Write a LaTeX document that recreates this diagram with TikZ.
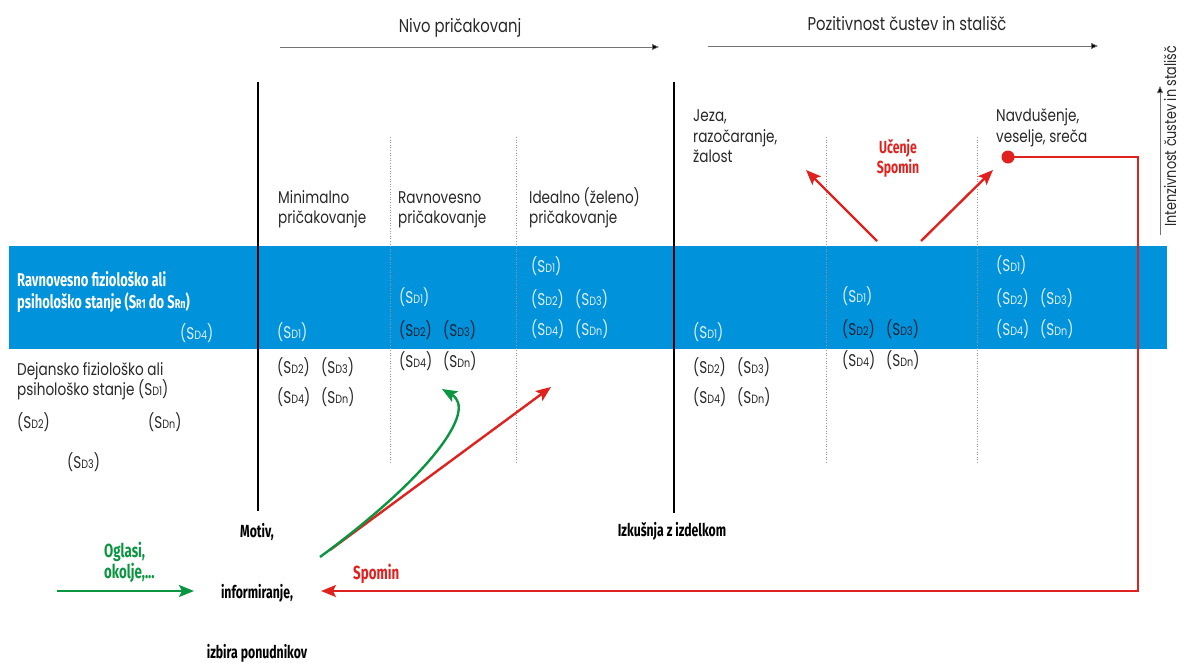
\documentclass[tikz,border=0pt]{standalone}
\usepackage{fontspec}
\setmainfont{Poppins}[FakeStretch=0.8]
\newfontfamily\condfont{Fira Sans}[FakeStretch=0.7]
\usetikzlibrary{arrows.meta}
\definecolor{bandblue}{RGB}{0,146,218}
\definecolor{redc}{RGB}{224,34,31}
\definecolor{greenc}{RGB}{10,150,64}
\definecolor{txtc}{RGB}{40,40,40}
\definecolor{lightw}{RGB}{225,240,252}
\definecolor{darkb}{RGB}{20,35,55}
\definecolor{dotc}{RGB}{150,150,150}
\newcommand\sdx[1]{(S{\fontsize{12}{12}\selectfont #1})}
\begin{document}
\begin{tikzpicture}[x=1pt,y=-1pt,
  txt/.style={inner sep=0,anchor=base west,text=txtc,font=\fontsize{17}{20}\selectfont},
  ctxt/.style={txt,anchor=base,font=\fontsize{18.5}{20}\selectfont},
  sdw/.style={txt,text=lightw,font=\fontsize{17}{18}\selectfont},
  sdd/.style={txt,text=darkb,font=\fontsize{17}{18}\selectfont},
  sdg/.style={txt,font=\fontsize{17}{18}\selectfont},
  boldc/.style={inner sep=0,anchor=base,font=\condfont\bfseries\fontsize{17.5}{20}\selectfont},
  boldl/.style={boldc,anchor=base west},
  bandtxt/.style={boldl,text=white,font=\condfont\bfseries\fontsize{18.5}{20}\selectfont},
  thickline/.style={line width=2.6pt,black},
  dotline/.style={dotc,line width=0.7pt,dash pattern=on 1pt off 1.6pt},
  toparrow/.style={line width=0.7pt,draw=black!55,-{Triangle[length=7pt,width=6pt,fill=black]}},
  redarrow/.style={line width=2.4pt,redc,-{Stealth[length=15pt,width=12pt,inset=3pt]}},
  greenarrow/.style={line width=2.4pt,greenc,-{Stealth[length=15pt,width=12pt,inset=3pt]}}
]
\useasboundingbox (0,0) rectangle (1180,662);

% blue band
\fill[bandblue] (9,246) rectangle (1167,349);

% top axes
\node[ctxt] (nivo) at (460,32) {Nivo pričakovanj};
\coordinate (na) at (280,47);
\coordinate (nb) at (659,47);
\draw[toparrow] (na) -- (nb);
\node[ctxt] (poz) at (907,30) {Pozitivnost čustev in stališč};
\coordinate (pa) at (708,46);
\coordinate (pb) at (1098,46);
\draw[toparrow] (pa) -- (pb);
\coordinate (va) at (1160,235);
\coordinate (vb) at (1160,86);
\draw[toparrow] (va) -- (vb);
\node[txt,anchor=center,rotate=90,font=\fontsize{16}{18}\selectfont] (intenz) at (1170,136) {Intenzivnost čustev in stališč};

% vertical lines
\coordinate (l1t) at (258,82); \coordinate (l1b) at (258,511);
\coordinate (l2t) at (674,82); \coordinate (l2b) at (674,513);
\draw[thickline] (l1t) -- (l1b);
\draw[thickline] (l2t) -- (l2b);
\foreach \xx/\nm in {390/d1,516/d2,826/d3,977/d4}{
  \coordinate (\nm t) at (\xx,137);
  \coordinate (\nm b) at (\xx,463);
  \draw[dotline] (\nm t) -- (\nm b);
}

% column headings
\node[txt] (min1) at (278,203) {Minimalno};
\node[txt] (min2) at (278,223) {pričakovanje};
\node[txt] (rav1) at (398,203) {Ravnovesno};
\node[txt] (rav2) at (398,223) {pričakovanje};
\node[txt] (ide1) at (529,203) {Idealno (želeno)};
\node[txt] (ide2) at (529,223) {pričakovanje};
\node[txt] (jez1) at (693,121) {Jeza,};
\node[txt] (jez2) at (693,142) {razočaranje,};
\node[txt] (jez3) at (693,162) {žalost};
\node[txt] (nav1) at (996,121) {Navdušenje,};
\node[txt] (nav2) at (996,142) {veselje, sreča};
\node[boldc,text=redc] (uc1) at (898,153) {Učenje};
\node[boldc,text=redc] (uc2) at (898,173) {Spomin};

% left texts
\node[bandtxt] (rv1) at (17,286) {Ravnovesno fiziološko ali};
\node[bandtxt] (rv2) at (17,308) {psihološko stanje (S{\fontsize{13}{13}\selectfont R1} do S{\fontsize{13}{13}\selectfont Rn})};
\node[sdw] (l4) at (180,339) {\sdx{D4}};
\node[txt] (dej1) at (17,375) {Dejansko fiziološko ali};
\node[txt] (dej2) at (17,395) {psihološko stanje \sdx{D1}};
\node[sdg] (l2) at (17,428) {\sdx{D2}};
\node[sdg] (ln) at (148,428) {\sdx{Dn}};
\node[sdg] (l3) at (67,468) {\sdx{D3}};

% column 1 (Minimalno)
\node[sdw] (a1) at (277,338) {\sdx{D1}};
\node[sdg] (a2) at (277,373) {\sdx{D2}};
\node[sdg] (a3) at (321,373) {\sdx{D3}};
\node[sdg] (a4) at (277,403) {\sdx{D4}};
\node[sdg] (an) at (321,403) {\sdx{Dn}};
% column 2 (Ravnovesno)
\node[sdw] (b1) at (399,303) {\sdx{D1}};
\node[sdd] (b2) at (399,336) {\sdx{D2}};
\node[sdd] (b3) at (443,336) {\sdx{D3}};
\node[sdg] (b4) at (399,367) {\sdx{D4}};
\node[sdg] (bn) at (443,367) {\sdx{Dn}};
% column 3 (Idealno)
\node[sdw] (c1) at (531,272) {\sdx{D1}};
\node[sdw] (c2) at (531,305) {\sdx{D2}};
\node[sdw] (c3) at (575,305) {\sdx{D3}};
\node[sdw] (c4) at (531,335) {\sdx{D4}};
\node[sdw] (cn) at (575,335) {\sdx{Dn}};
% column 4 (Jeza)
\node[sdw] (e1) at (693,338) {\sdx{D1}};
\node[sdg] (e2) at (693,373) {\sdx{D2}};
\node[sdg] (e3) at (737,373) {\sdx{D3}};
\node[sdg] (e4) at (693,403) {\sdx{D4}};
\node[sdg] (en) at (737,403) {\sdx{Dn}};
% column 5
\node[sdw] (f1) at (842,302) {\sdx{D1}};
\node[sdd] (f2) at (842,335) {\sdx{D2}};
\node[sdd] (f3) at (886,335) {\sdx{D3}};
\node[sdg] (f4) at (842,366) {\sdx{D4}};
\node[sdg] (fn) at (886,366) {\sdx{Dn}};
% column 6 (Navdušenje)
\node[sdw] (g1) at (996,271) {\sdx{D1}};
\node[sdw] (g2) at (996,304) {\sdx{D2}};
\node[sdw] (g3) at (1040,304) {\sdx{D3}};
\node[sdw] (g4) at (996,335) {\sdx{D4}};
\node[sdw] (gn) at (1040,335) {\sdx{Dn}};

% bottom texts
\node[boldc] (motiv) at (257,537) {Motiv,};
\node[boldc] (info) at (257,598) {informiranje,};
\node[boldc] (izbira) at (257,658) {izbira ponudnikov};
\node[boldc] (izk) at (672,536) {Izkušnja z izdelkom};
\node[boldl,text=greenc,font=\condfont\bfseries\fontsize{19}{20}\selectfont] (og1) at (104,557) {Oglasi,};
\node[boldl,text=greenc,font=\condfont\bfseries\fontsize{19}{20}\selectfont] (og2) at (104,578) {okolje,...};
\node[boldl,text=redc,font=\condfont\bfseries\fontsize{19}{20}\selectfont] (spom) at (353,579) {Spomin};

% Učenje arrows
\coordinate (ua) at (877,241); \coordinate (ub) at (806,170);
\coordinate (uc) at (921,241); \coordinate (ud) at (993,170);
\draw[redarrow] (ua) -- (ub);
\draw[redarrow] (uc) -- (ud);

% red feedback loop
\fill[redc] (1008,157) circle (6.5pt) coordinate (dot);
\coordinate (rc1) at (1138,157);
\coordinate (rc2) at (1138,591);
\coordinate (rtip) at (321,591);
\draw[line width=2.2pt,redc,-{Stealth[length=15pt,width=12pt,inset=3pt]}] (dot) -- (rc1) -- (rc2) -- (rtip);

% green input arrow
\coordinate (ga) at (57,591);
\coordinate (gb) at (194,591);
\draw[greenarrow] (ga) -- (gb);

% red straight and green curved arrows
\coordinate (rs) at (330,550);
\coordinate (re) at (551,387);
\draw[redarrow] (rs) -- (re);
\coordinate (gs) at (320,557);
\coordinate (ge) at (442,389);
\draw[greenarrow] (gs) .. controls (430,476) and (478,410) .. (ge);
\end{tikzpicture}
\end{document}
